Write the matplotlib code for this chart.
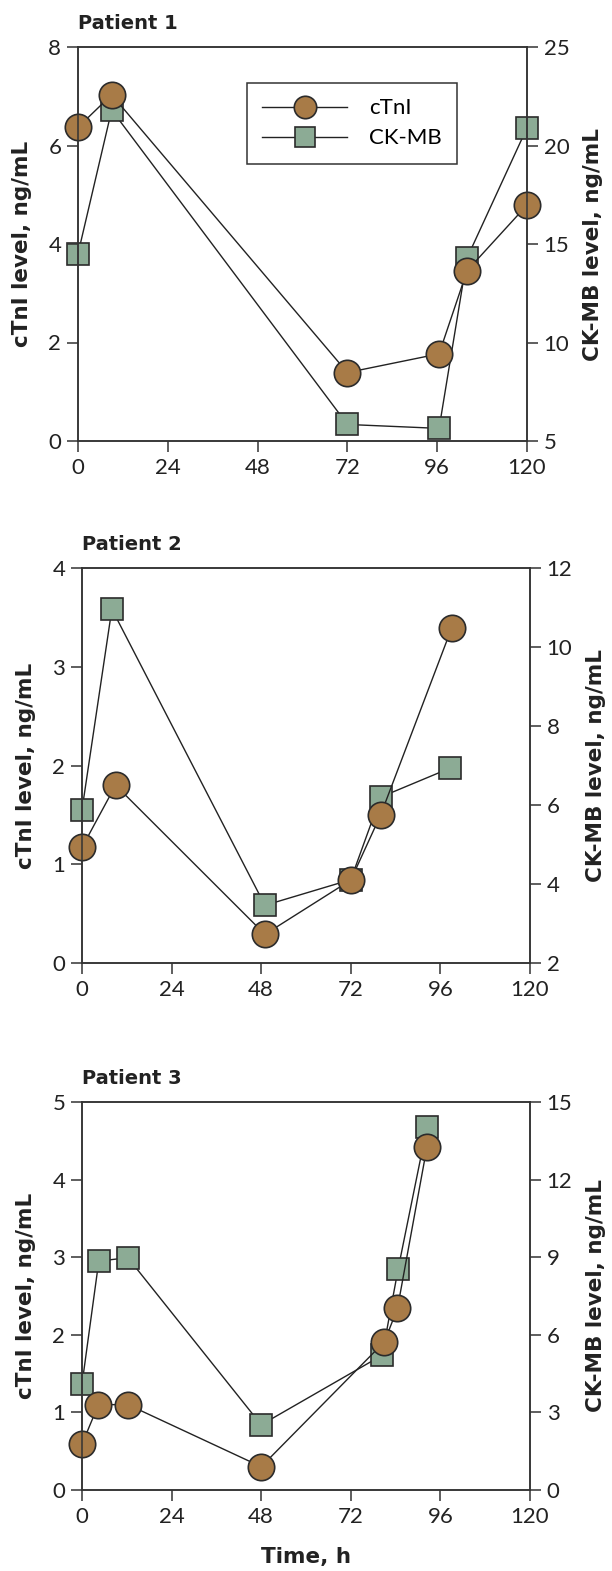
import matplotlib
matplotlib.use("Agg")
import matplotlib.pyplot as plt
from matplotlib import font_manager

# ---------------- data ----------------
p1_ctni_t = [0, 9, 72, 96.5, 104, 120]
p1_ctni = [6.37, 7.03, 1.39, 1.77, 3.46, 4.79]
p1_ckmb_t = [0, 9, 72, 96.5, 104, 120]
p1_ckmb = [14.5, 21.8, 5.84, 5.64, 14.3, 20.9]

p2_ctni_t = [0, 9, 49, 72, 80, 99]
p2_ctni = [1.17, 1.80, 0.29, 0.84, 1.50, 3.39]
p2_ckmb_t = [0, 8, 49, 72, 80, 98.5]
p2_ckmb = [5.88, 10.96, 3.46, 4.11, 6.2, 6.93]

p3_ctni_t = [0, 4.4, 12.3, 48, 81, 84.5, 92.4]
p3_ctni = [0.59, 1.10, 1.10, 0.30, 1.91, 2.34, 4.42]
p3_ckmb_t = [0, 4.5, 12.3, 48, 80.4, 84.7, 92.4]
p3_ckmb = [4.09, 8.85, 8.98, 2.52, 5.21, 8.56, 14.03]

titles = ["Patient 1", "Patient 2", "Patient 3"]
x_ticks = [0, 24, 48, 72, 96, 120]
left_ticks = [[0, 2, 4, 6, 8], [0, 1, 2, 3, 4], [0, 1, 2, 3, 4, 5]]
right_ticks = [[5, 10, 15, 20, 25], [2, 4, 6, 8, 10, 12], [0, 3, 6, 9, 12, 15]]

# ---------------- style ----------------
names = {f.name for f in font_manager.fontManager.ttflist}
tick_font = "Lato" if "Lato" in names else "Liberation Sans"
bold_font = "DejaVu Sans"

BG = "#e5e6e9"
CIRC = "#a87b47"
SQR = "#8cab95"
EDGE = "#2b2b2b"
LINE = "#222222"
TXT = "#222222"

W, H = 612, 1571
fig = plt.figure(figsize=(W / 100, H / 100), dpi=100)

rects = [(78, 527, 47, 441), (82, 530, 568, 963), (82, 530, 1102, 1490)]
data = [
    (p1_ctni_t, p1_ctni, p1_ckmb_t, p1_ckmb),
    (p2_ctni_t, p2_ctni, p2_ckmb_t, p2_ckmb),
    (p3_ctni_t, p3_ctni, p3_ckmb_t, p3_ckmb),
]

for i, ((l, r, t, b), (ct, cv, kt, kv)) in enumerate(zip(rects, data)):
    ax = fig.add_axes([l / W, (H - b) / H, (r - l) / W, (b - t) / H])
    ax2 = ax.twinx()
    ax.set_zorder(ax2.get_zorder() + 1)
    ax.patch.set_visible(False)
    ax2.set_facecolor(BG)

    h2, = ax2.plot(kt, kv, color=LINE, lw=1.0, marker="s", ms=16.5,
                   mfc=SQR, mec=EDGE, mew=1.2, label="CK-MB", clip_on=False)
    h1, = ax.plot(ct, cv, color=LINE, lw=1.0, marker="o", ms=19,
                  mfc=CIRC, mec=EDGE, mew=1.2, label="cTnI", clip_on=False)

    ax.set_xlim(0, 120)
    ax.set_xticks(x_ticks)
    ax.set_ylim(left_ticks[i][0], left_ticks[i][-1])
    ax.set_yticks(left_ticks[i])
    ax2.set_ylim(right_ticks[i][0], right_ticks[i][-1])
    ax2.set_yticks(right_ticks[i])

    for a in (ax, ax2):
        for s in a.spines.values():
            s.set_color("#333333")
            s.set_linewidth(1.1)
        a.tick_params(direction="out", length=8, width=1.1, color="#333333",
                      labelsize=16, pad=4)
        for lab in a.get_xticklabels() + a.get_yticklabels():
            lab.set_fontfamily(tick_font)
            lab.set_color(TXT)

    ax.set_ylabel("cTnI level, ng/mL", fontsize=15.5, fontweight="bold",
                  family=bold_font, color=TXT, labelpad=12)
    ax2.set_ylabel("CK-MB level, ng/mL", fontsize=15.5, fontweight="bold",
                   family=bold_font, color=TXT, labelpad=10)
    ax.set_title(titles[i], loc="left", fontsize=14, fontweight="bold",
                 family=bold_font, color=TXT, pad=13)

    if i == 0:
        leg = ax.legend([h1, h2], ["cTnI", "CK-MB"],
                        loc="upper left", bbox_to_anchor=(0.376, 0.909),
                        borderaxespad=0,
                        frameon=True, fancybox=False, edgecolor="#333333",
                        facecolor="white", framealpha=1, handlelength=3.8,
                        handletextpad=1.0, borderpad=0.7, labelspacing=0.45,
                        markerscale=0.85,
                        prop={"family": tick_font, "size": 16})
        leg.get_frame().set_linewidth(1.1)
    if i == 2:
        ax.set_xlabel("Time, h", fontsize=15.5, fontweight="bold",
                      family=bold_font, color=TXT, labelpad=15)

fig.savefig("out.png", dpi=100)
